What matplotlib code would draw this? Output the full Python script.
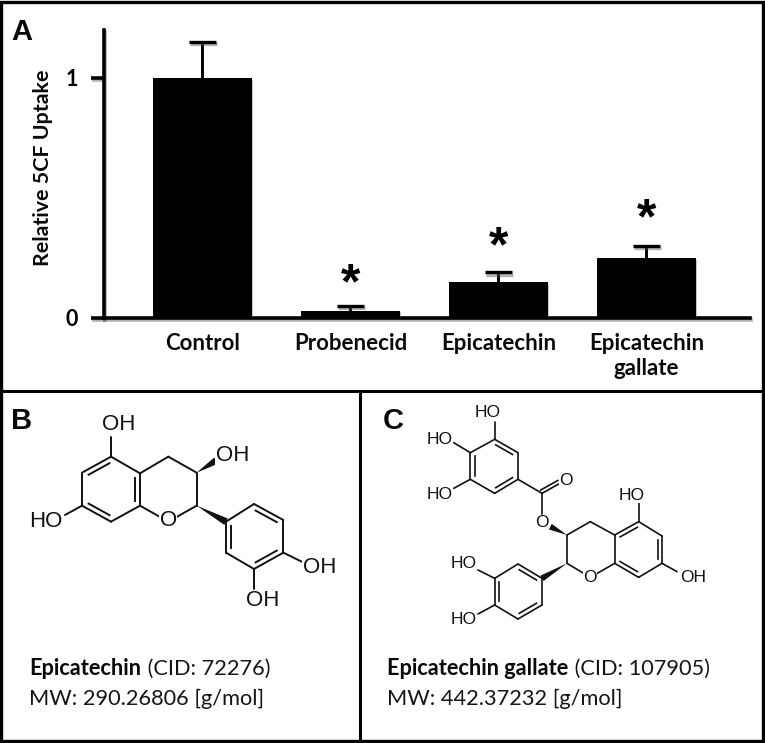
import numpy as np
import matplotlib
matplotlib.use('Agg')
import matplotlib.pyplot as plt
import matplotlib.patheffects as pe
from matplotlib.patches import Polygon, Rectangle

#bar chart values
categories = ['Control', 'Probenecid', 'Epicatechin', 'Epicatechin\ngallate']
uptake = [1.0, 0.03, 0.15, 0.25]
uptake_err = [0.15, 0.02, 0.04, 0.05]
star_height = [None, 0.08, 0.235, 0.352]

#epicatechin drawing, in units of 1/3 pixel inside panel B
b_atoms = {'c5': (333, 200), 'c4a': (420, 250), 'c8a': (420, 347), 'c8': (333, 395), 'c7': (246, 347), 'c6': (246, 248),
           'c4': (505, 200), 'c3': (590, 248), 'c2': (590, 347), 'o1': (505, 395),
           'r1': (678, 395), 'r2': (678, 488), 'r3': (762, 537), 'r4': (850, 488), 'r5': (850, 390), 'r6': (762, 342),
           'oh5': (333, 140), 'oh7': (195, 375), 'ohr4': (905, 515), 'ohr3': (762, 597),
           'w3': (648, 212)}
b_single = [('c5', 'c4a'), ('c8a', 'c8'), ('c7', 'c6'), ('c4a', 'c4'), ('c4', 'c3'), ('c3', 'c2'),
            ('r2', 'r3'), ('r4', 'r5'), ('r6', 'r1'),
            ('c5', 'oh5'), ('c7', 'oh7'), ('r4', 'ohr4'), ('r3', 'ohr3'), ('c8a', 'o1'), ('o1', 'c2')]
b_double = [('c5', 'c6', (333, 298)), ('c7', 'c8', (333, 298)), ('c4a', 'c8a', (333, 298)),
            ('r1', 'r2', (764, 440)), ('r3', 'r4', (764, 440)), ('r5', 'r6', (764, 440))]
b_wedge = [('c3', 'w3'), ('c2', 'r1')]
b_labels = [('OH', 355, 105), ('OH', 697, 197), ('HO', 138, 395), ('O', 505, 393), ('OH', 958, 533), ('OH', 787, 633)]

#epicatechin gallate drawing, in units of 1/3 pixel inside panel C
c_atoms = {'a': (398, 148), 'b': (468, 188), 'c': (468, 268), 'd': (398, 310), 'e': (325, 268), 'f': (325, 188),
           'co': (540, 310), 'o_d': (592, 281), 'o_s': (540, 372),
           'c3': (615, 435), 'c4': (685, 395), 'c4a': (758, 435), 'c8a': (758, 520), 'o1': (685, 562), 'c2': (615, 520),
           'c5': (830, 395), 'c6': (900, 438), 'c7': (900, 520), 'c8': (830, 562),
           'r1': (540, 565), 'r2': (468, 522), 'r3': (398, 565), 'r4': (398, 645), 'r5': (468, 687), 'r6': (540, 645),
           'oha': (398, 95), 'ohf': (275, 158), 'ohe': (275, 295), 'oh5': (830, 340), 'oh7': (945, 545),
           'ohr3': (348, 540), 'ohr4': (348, 672), 'w3': (565, 410)}
c_single = [('b', 'c'), ('d', 'e'), ('f', 'a'), ('c', 'co'), ('co', 'o_s'), ('co', 'o_d'),
            ('c3', 'c4'), ('c4', 'c4a'), ('c3', 'c2'), ('c2', 'o1'), ('o1', 'c8a'), ('c4a', 'c8a'),
            ('c5', 'c6'), ('c7', 'c8'), ('r2', 'r3'), ('r4', 'r5'), ('r6', 'r1'),
            ('a', 'oha'), ('f', 'ohf'), ('e', 'ohe'), ('c5', 'oh5'), ('c7', 'oh7'), ('r3', 'ohr3'), ('r4', 'ohr4')]
c_double = [('a', 'b', (397, 228)), ('c', 'd', (397, 228)), ('e', 'f', (397, 228)),
            ('c4a', 'c5', (829, 478)), ('c6', 'c7', (829, 478)), ('c8', 'c8a', (829, 478)),
            ('r1', 'r2', (469, 605)), ('r3', 'r4', (469, 605)), ('r5', 'r6', (469, 605))]
c_wedge = [('c3', 'w3'), ('c2', 'r1')]
c_labels = [('HO', 378, 67), ('HO', 233, 150), ('HO', 233, 313), ('O', 612, 272), ('O', 540, 398),
            ('HO', 808, 315), ('OH', 992, 563), ('O', 685, 562), ('HO', 305, 522), ('HO', 305, 687)]

W, H = 765, 743
fig = plt.figure(figsize=(W / 100, H / 100), dpi=100, facecolor='white')

#full figure layer in pixel coordinates for frames and the drawings
bg = fig.add_axes([0, 0, 1, 1])
bg.set_xlim(0, W)
bg.set_ylim(H, 0)
bg.axis('off')

shadow = [pe.SimpleLineShadow(offset=(0.8, -1.6), shadow_color='#555555', alpha=0.45), pe.Normal()]

#bar panel
ax = fig.add_axes([104 / W, (H - 318) / H, (750 - 104) / W, 288 / H])
ax.patch.set_alpha(0)
xpos = np.arange(len(categories))
bars = ax.bar(xpos, uptake, width=0.67, color='black', zorder=3)
for bar in bars:
    bar.set_path_effects([pe.SimplePatchShadow(offset=(0.8, -1.2), shadow_rgbFace='#555555', alpha=0.35), pe.Normal()])
line, caps, stems = ax.errorbar(xpos, uptake, yerr=[np.zeros(4), uptake_err], fmt='none', ecolor='black',
                                elinewidth=2.1, capsize=10, capthick=2.4, zorder=2)
#only the upper cap is drawn
caps[0].set_visible(False)
caps[1].set_path_effects(shadow)
ax.set_xlim(-0.665, 3.7)
ax.set_ylim(0, 1.2)
ax.set_yticks([0, 1])
ax.set_xticks(xpos)
ax.set_xticklabels(categories, fontfamily='Lato', fontweight='bold', fontsize=16, color='#0a0a0a', linespacing=1.2)
ax.tick_params(axis='x', length=0, pad=11)
ax.tick_params(axis='y', length=9.5, width=2.6, pad=9.5)
for lab in ax.get_yticklabels():
    lab.set_fontfamily('Lato')
    lab.set_fontweight('bold')
    lab.set_fontsize(15.5)
for tick in ax.yaxis.get_major_ticks():
    tick.tick1line.set_path_effects(shadow)
ax.set_ylabel('Relative 5CF Uptake', fontfamily='Lato', fontweight='bold', fontsize=15.4, color='#0a0a0a')
ax.yaxis.set_label_coords((53 - 104) / (750 - 104), (318 - 168) / 288)
ax.spines['top'].set_visible(False)
ax.spines['right'].set_visible(False)
for side in ['left', 'bottom']:
    ax.spines[side].set_linewidth(2.6)
    ax.spines[side].set_path_effects(shadow)
for x, h in zip(xpos, star_height):
    if h is not None:
        ax.text(x, h, '*', ha='center', va='baseline', fontfamily='Liberation Sans', fontweight='bold', fontsize=36)


def draw_molecule(atoms, single, double, wedge, labels, x0, y0, lw, size):
    #drawing units are 1/3 pixel
    P = {k: np.array([x0 + v[0] / 3, y0 + v[1] / 3]) for k, v in atoms.items()}
    for a, b in single:
        bg.plot(*zip(P[a], P[b]), color='#111111', lw=lw, solid_capstyle='round', zorder=2)
    for a, b, c in double:
        bg.plot(*zip(P[a], P[b]), color='#111111', lw=lw, solid_capstyle='round', zorder=2)
        #inner bond, pulled toward the ring centre
        ctr = np.array([x0 + c[0] / 3, y0 + c[1] / 3])
        mid = (P[a] + P[b]) / 2
        d = (P[b] - P[a]) * 0.36
        n = (ctr - mid) / np.linalg.norm(ctr - mid) * 5 * lw / 1.4
        bg.plot(*zip(mid - d + n, mid + d + n), color='#111111', lw=lw, zorder=2)
    for a, b in wedge:
        v = P[b] - P[a]
        n = np.array([-v[1], v[0]]) / np.linalg.norm(v) * 2.6 * lw
        bg.add_patch(Polygon([P[a], P[b] + n, P[b] - n], closed=True, color='#111111', lw=0, zorder=2))
    for s, x, y in labels:
        bg.text(x0 + x / 3, y0 + y / 3, s, ha='center', va='center', fontfamily='Liberation Sans', fontsize=size,
                color='#111111', zorder=3, bbox=dict(facecolor='white', edgecolor='none', pad=0.3))


draw_molecule(b_atoms, b_single, b_double, b_wedge, b_labels, 0, 390, 1.4, 16)
draw_molecule(c_atoms, c_single, c_double, c_wedge, c_labels, 362, 390, 1.2, 12.5)
#second line of the C=O bond
co = np.array(c_atoms['co']) / 3 + [362, 390]
od = np.array(c_atoms['o_d']) / 3 + [362, 390]
bg.plot([co[0] - 1.5, od[0] - 1.5], [co[1] - 3.2, od[1] - 3.2], color='#111111', lw=1.2, zorder=1)

#panel letters
for s, x, y in [('A', 11, 40), ('B', 11, 429), ('C', 383, 429)]:
    bg.text(x, y, s, fontfamily='Liberation Sans', fontweight='bold', fontsize=21, color='#0a0a0a', va='baseline')

#captions, bold name followed by regular text on the same baseline
rend = fig.canvas.get_renderer()
for x, name, cid, mw in [(29, 'Epicatechin', ' (CID: 72276)', 'MW: 290.26806 [g/mol]'),
                         (387, 'Epicatechin gallate', ' (CID: 107905)', 'MW: 442.37232 [g/mol]')]:
    t = bg.text(x, 675, name, fontfamily='Lato', fontweight='bold', fontsize=15.7, color='#0a0a0a', va='baseline')
    right = t.get_window_extent(rend).x1
    bg.text(right + 1, 675, cid, fontfamily='Lato', fontsize=15.7, color='#151515', va='baseline')
    bg.text(x, 705, mw, fontfamily='Lato', fontsize=15.7, color='#151515', va='baseline')

#outer frame and panel dividers
bg.add_patch(Rectangle((1.5, 2), W - 3.5, H - 4, fill=False, edgecolor='black', lw=2.4, zorder=5))
bg.plot([1, W - 1], [391, 391], color='black', lw=2.2, zorder=5)
bg.plot([360, 360], [391, H - 2], color='black', lw=2.2, zorder=5)

plt.savefig('out.png', dpi=100)
